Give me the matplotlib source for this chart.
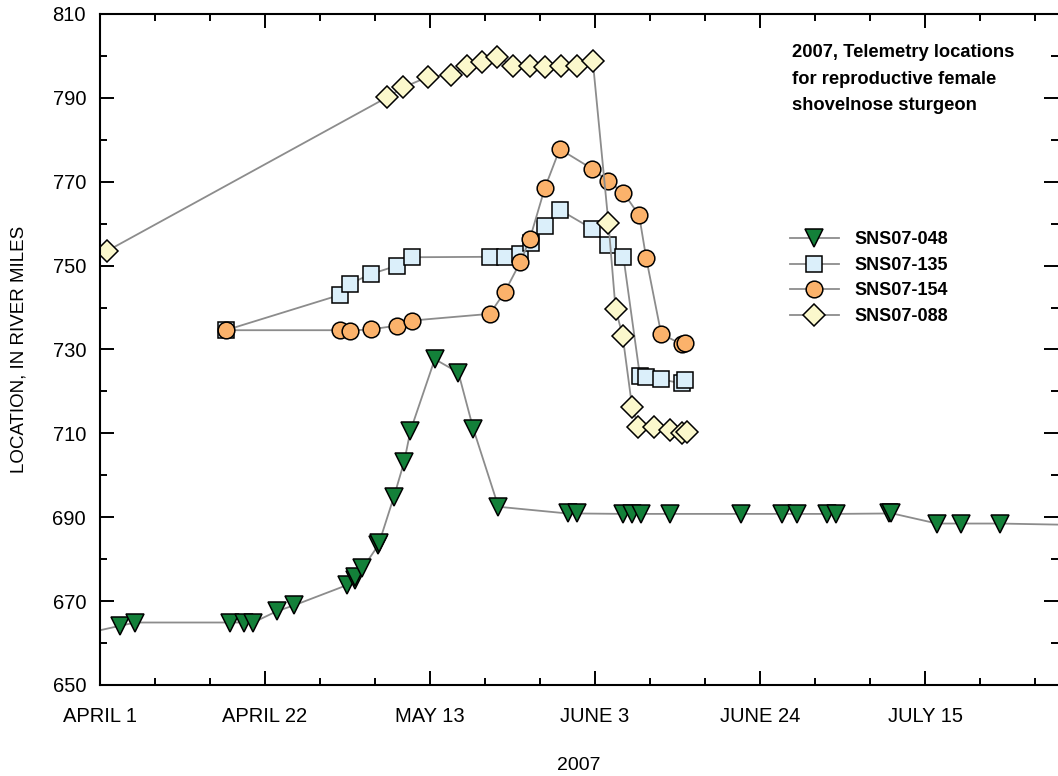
import matplotlib as mpl
mpl.use("Agg")
import matplotlib.pyplot as plt
from matplotlib.ticker import MultipleLocator, FixedLocator, FixedFormatter

plt.rcParams["font.family"] = ["Liberation Sans Narrow", "Liberation Sans", "DejaVu Sans"]

# x = days since April 1, 2007; y = river mile
day_048 = [-3, 2.5, 4.5, 16.5, 18.3, 19.5, 22.5, 24.7, 31.4, 32.4, 32.5, 33.4,
           35.4, 35.5, 37.4, 38.7, 39.5, 42.6, 45.6, 47.5, 50.7, 59.5, 60.7,
           66.6, 67.7, 68.8, 72.5, 81.5, 86.8, 88.7, 92.5, 93.7, 100.4, 100.6,
           106.5, 109.5, 114.5, 126]
loc_048 = [661.8, 664.1, 664.9, 664.9, 664.9, 664.9, 667.6, 669.0, 673.8, 675.0,
           675.8, 677.8, 683.3, 683.8, 694.9, 703.2, 710.6, 727.7, 724.5, 711.1,
           692.5, 690.9, 690.9, 690.8, 690.8, 690.8, 690.8, 690.8, 690.8, 690.8,
           690.8, 690.8, 690.9, 691.0, 688.5, 688.5, 688.5, 688.1]

day_135 = [16.0, 30.5, 31.8, 34.5, 37.8, 39.7, 49.6, 51.5, 53.5, 54.8, 56.6,
           58.5, 62.6, 64.6, 66.6, 68.7, 69.5, 71.4, 74.0, 74.5]
loc_135 = [734.6, 743.0, 745.7, 748.0, 750.0, 752.0, 752.1, 752.1, 752.8, 755.5,
           759.4, 763.3, 758.8, 754.9, 752.1, 723.7, 723.5, 722.9, 721.9, 722.7]

day_154 = [16.0, 30.5, 31.8, 34.5, 37.8, 39.7, 49.6, 51.5, 53.5, 54.7, 56.6,
           58.5, 62.6, 64.6, 66.6, 68.6, 69.5, 71.4, 74.0, 74.5]
loc_154 = [734.6, 734.6, 734.5, 734.8, 735.7, 736.9, 738.5, 743.7, 750.9, 756.4,
           768.5, 777.8, 773.1, 770.2, 767.4, 762.0, 751.8, 733.8, 731.2, 731.5]

day_088 = [0.9, 36.5, 38.6, 41.7, 44.6, 46.7, 48.6, 50.5, 52.6, 54.7, 56.6,
           58.7, 60.7, 62.7, 64.7, 65.6, 66.5, 67.7, 68.5, 70.5, 72.5, 74.0, 74.7]
loc_088 = [753.5, 790.1, 792.5, 795.0, 795.5, 797.6, 798.6, 799.8, 797.7, 797.6,
           797.3, 797.7, 797.6, 798.9, 760.1, 739.7, 733.3, 716.4, 711.6, 711.6,
           710.8, 710.0, 710.4]

tick_days = [0, 21, 42, 63, 84, 105]
tick_labels = ["APRIL 1", "APRIL 22", "MAY 13", "JUNE 3", "JUNE 24", "JULY 15"]
y_ticks = [650, 670, 690, 710, 730, 750, 770, 790, 810]

fig = plt.figure(figsize=(10.58, 7.76), dpi=100)
ax = fig.add_axes([100 / 1058, 1 - 685 / 776, 958 / 1058, 671 / 776])

line_kw = dict(color="#8c8c8c", linewidth=1.3, markeredgecolor="black",
               markeredgewidth=1.1)
ax.plot(day_048, loc_048, marker="v", markersize=13, markerfacecolor="#138039",
        label="SNS07-048", **line_kw)
ax.plot(day_135, loc_135, marker="s", markersize=11, markerfacecolor="#dbeffa",
        label="SNS07-135", **line_kw)
ax.plot(day_154, loc_154, marker="o", markersize=12, markerfacecolor="#fbb26b",
        label="SNS07-154", **line_kw)
ax.plot(day_088, loc_088, marker="D", markersize=11, markerfacecolor="#fbf8cc",
        label="SNS07-088", **line_kw)

ax.set_xlim(0, 121.9)
ax.set_ylim(650, 810)
ax.xaxis.set_major_locator(FixedLocator(tick_days))
ax.xaxis.set_major_formatter(FixedFormatter(tick_labels))
ax.xaxis.set_minor_locator(MultipleLocator(7))
ax.yaxis.set_major_locator(FixedLocator(y_ticks))
ax.yaxis.set_minor_locator(MultipleLocator(10))
ax.tick_params(which="both", direction="in", top=True, right=True,
               width=1.4, labelsize=14.5)
ax.tick_params(which="major", length=10)
ax.tick_params(which="minor", length=5)
ax.tick_params(axis="x", pad=16)
ax.tick_params(axis="y", pad=10)
for s in ["left", "bottom", "top"]:
    ax.spines[s].set_linewidth(1.5)
ax.spines["right"].set_visible(False)

ax.set_xlabel("2007", fontsize=14, labelpad=22)
ax.set_ylabel("LOCATION, IN RIVER MILES", fontsize=13.5, labelpad=18)

ax.text(0.722, 0.955, "2007, Telemetry locations\nfor reproductive female\nshovelnose sturgeon",
        transform=ax.transAxes, ha="left", va="top", fontsize=13.2,
        fontweight="bold", linespacing=1.72)

ax.legend(loc="upper left", bbox_to_anchor=(0.72, 0.676), frameon=False,
          borderpad=0, borderaxespad=0, handlelength=2.7, handletextpad=0.9,
          labelspacing=0.47, prop={"size": 13, "weight": "bold"})

fig.savefig("out.png", dpi=100)
